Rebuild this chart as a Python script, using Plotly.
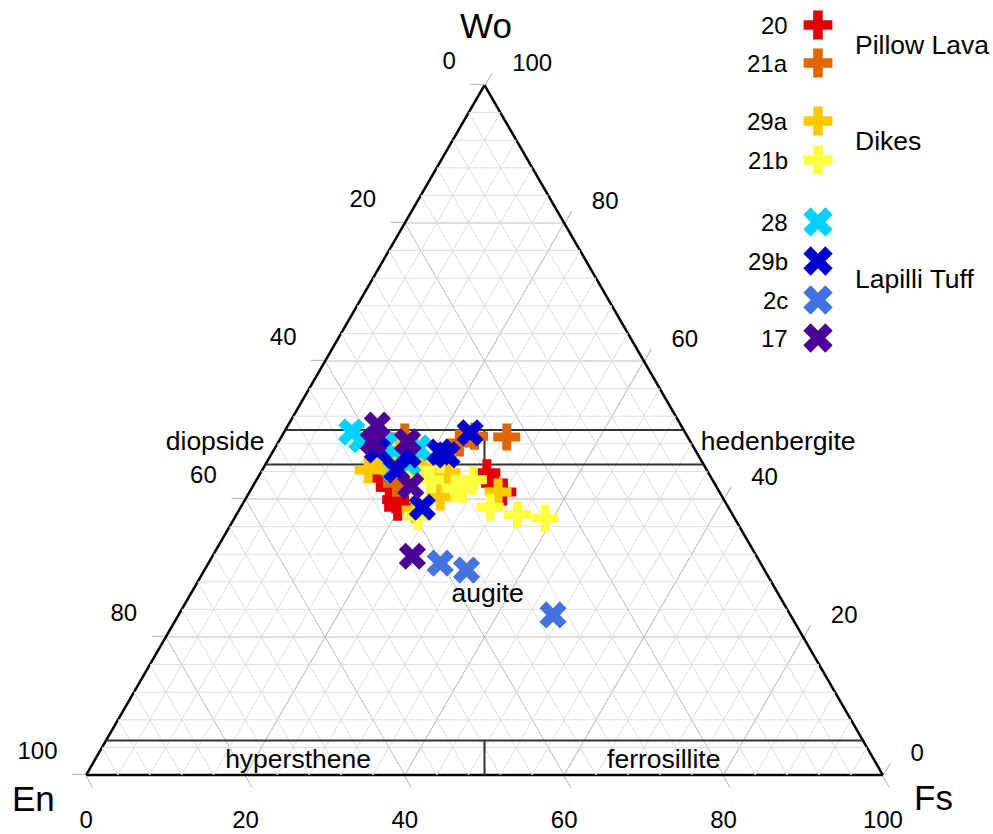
import plotly.graph_objects as go

FONT = "Liberation Sans, Arial, Helvetica, sans-serif"
W, H = 993, 834
# triangle placement (pixels): left, right, top, bottom
TRI_L, TRI_R, TRI_T, TRI_B = 86, 883, 85, 775

# ---------------- data (Wo, En, Fs in %) ----------------
SERIES = ["20", "21a", "29a", "21b", "28", "29b", "2c", "17"]
COLORS = ["#e00000", "#e06600", "#ffc800", "#ffff40",
          "#00d2ff", "#0000cd", "#4472e0", "#4b0096"]
SYMBOLS = ["cross", "cross", "cross", "cross", "x", "x", "x", "x"]

WO_20 = [41.7, 39.9, 43.8, 42.3, 41.0, 43.0, 38.8]
EN_20 = [41.1, 41.2, 27.8, 27.6, 27.2, 41.2, 41.5]
FS_20 = [17.2, 18.9, 28.4, 30.1, 31.8, 15.8, 19.7]

WO_21A = [49.0, 48.1, 49.1, 49.0, 42.3]
EN_21A = [22.7, 29.1, 26.7, 35.5, 39.9]
FS_21A = [28.3, 22.8, 24.2, 15.5, 17.8]

WO_29A = [44.2, 45.4, 45.4, 43.8, 40.3, 41.0, 38.4, 47.1]
EN_29A = [42.5, 39.8, 35.4, 32.8, 35.4, 27.8, 39.5, 37.1]
FS_29A = [13.3, 14.8, 19.2, 23.4, 24.3, 31.2, 22.1, 15.8]

WO_21B = [38.8, 37.7, 37.2, 41.3, 42.8, 42.8, 37.5, 45.7, 41.6, 44.2]
EN_21B = [29.9, 27.0, 23.8, 32.1, 30.0, 35.4, 39.6, 32.7, 32.9, 37.0]
FS_21B = [31.3, 35.3, 39.0, 26.6, 27.2, 21.8, 22.9, 21.6, 25.5, 18.8]

WO_28 = [49.7, 48.6, 47.8, 45.2, 44.2, 47.4]
EN_28 = [41.8, 41.1, 38.6, 37.0, 39.1, 34.6]
FS_28 = [8.5, 10.3, 13.6, 17.8, 16.7, 18.0]

WO_29B = [49.6, 46.4, 46.8, 44.2, 38.8, 47.1, 46.4]
EN_29B = [27.0, 31.5, 32.2, 38.9, 38.4, 39.9, 36.4]
FS_29B = [23.4, 22.1, 21.0, 16.9, 22.8, 13.0, 17.2]

WO_2C = [30.7, 29.7, 23.2]
EN_2C = [40.2, 37.4, 29.8]
FS_2C = [29.1, 32.9, 47.0]

WO_17 = [50.7, 48.3, 48.3, 41.9, 31.7]
EN_17 = [38.1, 39.8, 35.5, 38.3, 43.2]
FS_17 = [11.2, 11.9, 16.2, 19.8, 25.1]

DATA = [(WO_20, EN_20, FS_20), (WO_21A, EN_21A, FS_21A), (WO_29A, EN_29A, FS_29A),
        (WO_21B, EN_21B, FS_21B), (WO_28, EN_28, FS_28), (WO_29B, EN_29B, FS_29B),
        (WO_2C, EN_2C, FS_2C), (WO_17, EN_17, FS_17)]

# pyroxene field boundaries
LINE_WO = [50, 50, None, 45, 45, None, 45, 50, None, 5, 5, None, 0, 5]
LINE_EN = [50, 0, None, 55, 0, None, 27.5, 25, None, 95, 0, None, 50, 47.5]
LINE_FS = [0, 50, None, 0, 55, None, 27.5, 25, None, 0, 95, None, 50, 47.5]

# field names inside the triangle
FIELD_NAMES = ["augite", "hypersthene", "ferrosillite"]
FIELD_WO = [26.0, 2.0, 2.0]
FIELD_EN = [36.6, 72.4, 26.5]
FIELD_FS = [37.4, 25.6, 71.5]
# field names written just outside an edge
EDGE_NAMES = ["diopside", "hedenbergite"]
EDGE_WO = [48.0, 48.0]
EDGE_EN = [52.0, 0.0]
EDGE_FS = [0.0, 52.0]
EDGE_POS = ["middle left", "middle right"]

TICKS = [0, 20, 40, 60, 80, 100]
MINOR_STEP = 4

GROUPS = ["Pillow Lava", "Dikes", "Lapilli Tuff"]

fig = go.Figure()

# minor grid
ga, gb, gc = [], [], []
for v in range(MINOR_STEP, 100, MINOR_STEP):
    if v % 20 == 0:
        continue
    ga += [v, v, None]; gb += [100 - v, 0, None]; gc += [0, 100 - v, None]
    gb += [v, v, None]; ga += [100 - v, 0, None]; gc += [0, 100 - v, None]
    gc += [v, v, None]; ga += [100 - v, 0, None]; gb += [0, 100 - v, None]
fig.add_trace(go.Scatterternary(a=ga, b=gb, c=gc, mode="lines",
                                line=dict(color="#dedede", width=1),
                                hoverinfo="skip", showlegend=False, subplot="ternary"))

# field boundaries
fig.add_trace(go.Scatterternary(a=LINE_WO, b=LINE_EN, c=LINE_FS, mode="lines",
                                line=dict(color="#333333", width=2),
                                hoverinfo="skip", showlegend=False, subplot="ternary"))

# data
for name, col, sym, (wo, en, fs) in zip(SERIES, COLORS, SYMBOLS, DATA):
    size = 22.5 if sym == "cross" else 24
    fig.add_trace(go.Scatterternary(a=wo, b=en, c=fs, mode="markers", name=name,
                                    marker=dict(symbol=sym, size=size, color=col,
                                                line=dict(width=0)),
                                    showlegend=False, subplot="ternary"))

# field names
fig.add_trace(go.Scatterternary(a=FIELD_WO, b=FIELD_EN, c=FIELD_FS, mode="text",
                                text=FIELD_NAMES, textposition="middle center",
                                textfont=dict(family=FONT, size=26.5, color="black"),
                                cliponaxis=False, hoverinfo="skip",
                                showlegend=False, subplot="ternary"))
fig.add_trace(go.Scatterternary(a=EDGE_WO, b=EDGE_EN, c=EDGE_FS, mode="markers+text",
                                text=EDGE_NAMES, textposition=EDGE_POS,
                                marker=dict(size=[19, 13], opacity=0, color="white"),
                                textfont=dict(family=FONT, size=26.5, color="black"),
                                cliponaxis=False, hoverinfo="skip",
                                showlegend=False, subplot="ternary"))

# ---------------- axes ----------------
def ax_grid():
    return dict(min=0, tickmode="array", tickvals=TICKS, showticklabels=False,
                ticks="outside", ticklen=13, tickwidth=1.3, tickcolor="#b3b3b3",
                showgrid=True, gridcolor="#bdbdbd", gridwidth=1.2,
                showline=True, linecolor="black", linewidth=2.5,
                layer="below traces", title=dict(text=""))


# label-only ternary: slightly enlarged (by EXT units on every side) so that the
# labels can sit perpendicular to the edges like the reference.
EXT = 2.0
PX_UNIT = (TRI_R - TRI_L) / 100.0
LABEL_SHIFT = {"a": 3.11, "b": 1.61, "c": 1.58}   # along-edge label offset (units)
LABEL_DIST = {"a": 37.4, "b": 25.7, "c": 35.4}    # label distance (px)


def ax_labels(k):
    return dict(min=0, tickmode="array",
                tickvals=[t + LABEL_SHIFT[k] + EXT for t in TICKS],
                ticktext=[str(100 - t) for t in TICKS], showticklabels=True,
                ticks="outside", ticklen=LABEL_DIST[k] - EXT * PX_UNIT,
                tickcolor="rgba(0,0,0,0)",
                showgrid=False, showline=False,
                tickfont=dict(family=FONT, size=24, color="black"),
                title=dict(text=""))


dom = dict(x=[TRI_L / W, TRI_R / W], y=[1 - TRI_B / H, 1 - TRI_T / H])
cx = (TRI_L + TRI_R) / 2
cy = TRI_B - (TRI_B - TRI_T) / 3
kf = (100 + 3 * EXT) / 100
L2 = cx - (TRI_R - TRI_L) / 2 * kf
R2 = cx + (TRI_R - TRI_L) / 2 * kf
B2 = cy + (TRI_B - cy) * kf
T2 = cy - (cy - TRI_T) * kf
dom2 = dict(x=[L2 / W, R2 / W], y=[1 - B2 / H, 1 - T2 / H])

fig.add_trace(go.Scatterternary(a=[], b=[], c=[], subplot="ternary2", showlegend=False))

fig.update_layout(
    ternary=dict(sum=100, domain=dom, bgcolor="white",
                 aaxis=ax_grid(), baxis=ax_grid(), caxis=ax_grid()),
    ternary2=dict(sum=100 + 3 * EXT, domain=dom2, bgcolor="rgba(0,0,0,0)",
                  aaxis=ax_labels("a"), baxis=ax_labels("b"), caxis=ax_labels("c")),
)

# ---- pixel-space overlay axis for legend and corner titles ----
fig.update_layout(
    xaxis=dict(domain=[0, 1], range=[0, W], visible=False, fixedrange=True),
    yaxis=dict(domain=[0, 1], range=[H, 0], visible=False, fixedrange=True),
)

LEG_Y = [25, 63, 121, 160, 222, 261, 300, 338]
LEG_X = 818
GROUP_Y = [45, 141, 279]

for i, (name, col, sym) in enumerate(zip(SERIES, COLORS, SYMBOLS)):
    size = 24 if sym == "cross" else 26
    fig.add_trace(go.Scatter(x=[LEG_X], y=[LEG_Y[i]], mode="markers",
                             marker=dict(symbol=sym, size=size, color=col, line=dict(width=0)),
                             cliponaxis=False, hoverinfo="skip", showlegend=False,
                             xaxis="x", yaxis="y"))
    fig.add_annotation(x=790, y=LEG_Y[i], xref="x", yref="y", text=name,
                       showarrow=False, xanchor="right", yanchor="middle",
                       font=dict(family=FONT, size=24, color="black"))

for g, gy in zip(GROUPS, GROUP_Y):
    fig.add_annotation(x=853, y=gy, xref="x", yref="y", text=g, showarrow=False,
                       xanchor="left", yanchor="middle",
                       font=dict(family=FONT, size=26.5, color="black"))

for t, tx, ty in [("Wo", 486, 25), ("En", 33, 798), ("Fs", 933, 797)]:
    fig.add_annotation(x=tx, y=ty, xref="x", yref="y", text=t, showarrow=False,
                       xanchor="center", yanchor="middle",
                       font=dict(family=FONT, size=35, color="black"))

fig.update_layout(width=W, height=H, margin=dict(l=0, r=0, t=0, b=0),
                  paper_bgcolor="white", plot_bgcolor="rgba(0,0,0,0)",
                  showlegend=False, font=dict(family=FONT))

fig.write_html("out.html")
